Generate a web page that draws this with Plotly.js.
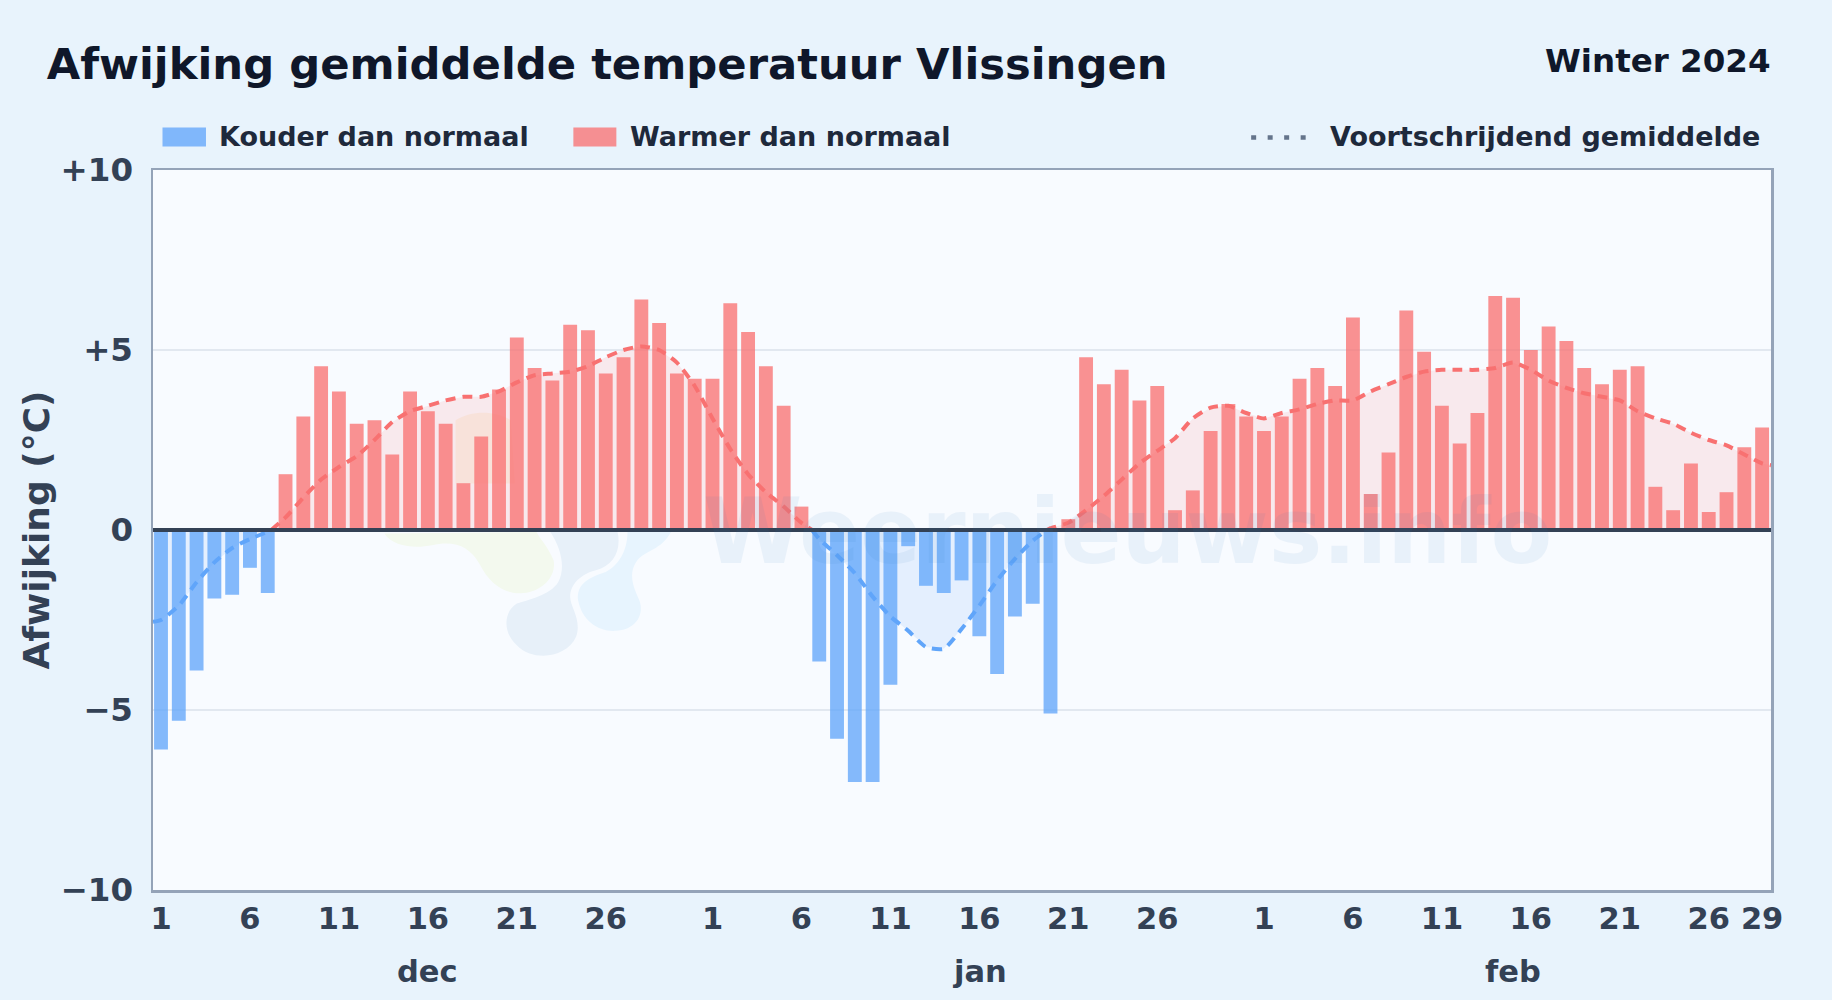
<!DOCTYPE html>
<html>
<head>
<meta charset="utf-8">
<script src="https://cdn.plot.ly/plotly-3.0.1.min.js"></script>
<style>html,body{margin:0;padding:0;background:#e8f3fc}#chart{width:1832px;height:1000px}</style>
</head>
<body>
<div id="chart"></div>
<script>
const deviation = [
 -6.1,-5.3,-3.9,-1.9,-1.8,-1.05,-1.75,1.55,3.15,4.55,3.85,2.95,3.05,2.1,3.85,3.3,2.95,1.3,2.6,3.9,5.35,4.5,4.15,5.7,5.55,4.35,4.8,6.4,5.75,4.35,4.2,
 4.2,6.3,5.5,4.55,3.45,0.65,-3.65,-5.8,-7.0,-7.0,-4.3,-0.45,-1.55,-1.75,-1.4,-2.95,-4.0,-2.4,-2.05,-5.1,0.3,4.8,4.05,4.45,3.6,4.0,0.55,1.1,2.75,3.5,3.15,
 2.75,3.15,4.2,4.5,4.0,5.9,1.0,2.15,6.1,4.95,3.45,2.4,3.25,6.5,6.45,5.0,5.65,5.25,4.5,4.05,4.45,4.55,1.2,0.55,1.85,0.5,1.05,2.3,2.85
];
const dayIndex = [
 0,1,2,3,4,5,6,7,8,9,10,11,12,13,14,15,16,17,18,19,20,21,22,23,24,25,26,27,28,29,30,
 31,32,33,34,35,36,37,38,39,40,41,42,43,44,45,46,47,48,49,50,51,52,53,54,55,56,57,58,59,60,61,
 62,63,64,65,66,67,68,69,70,71,72,73,74,75,76,77,78,79,80,81,82,83,84,85,86,87,88,89,90
];
const avgX = [-0.45,0,1,2,3,4,5,6,6.2,7,8,9,10,11,12,13,14,15,16,17,18,19,20,21,22,23,24,25,26,27,28,29,30,31,32,33,34,35,36,36.6,37,38,39,40,41,42,43,44,45,46,47,48,49,49.8,50,51,52,53,54,55,56,57,58,59,60,61,62,63,64,65,66,67,68,69,70,71,72,73,74,75,76,77,78,79,80,81,82,83,84,85,86,87,88,89,90,90.5];
const avgY = [-2.55,-2.5,-2.1,-1.45,-0.9,-0.5,-0.25,-0.05,0,0.35,0.9,1.4,1.75,2.05,2.5,3.0,3.3,3.45,3.6,3.7,3.7,3.85,4.1,4.3,4.35,4.4,4.55,4.8,5.0,5.1,5.0,4.65,4.0,3.1,2.25,1.55,1.05,0.65,0.2,0,-0.25,-0.7,-1.2,-1.85,-2.4,-2.8,-3.25,-3.3,-2.75,-2.1,-1.4,-0.8,-0.3,0,0.05,0.2,0.55,0.95,1.4,1.85,2.2,2.55,3.1,3.4,3.45,3.25,3.1,3.25,3.35,3.5,3.6,3.6,3.85,4.05,4.25,4.4,4.45,4.45,4.45,4.5,4.65,4.45,4.15,3.95,3.8,3.7,3.6,3.3,3.1,2.95,2.7,2.5,2.35,2.1,1.85,1.8];
const tickPos = [0,5,10,15,20,25,31,36,41,46,51,56,62,67,72,77,82,87,90];
const tickText = ['1','6','11','16','21','26','1','6','11','16','21','26','1','6','11','16','21','26','29'];
const monthNames = ['dec','jan','feb'];
const monthPos = [15,46,76];
const yTicks = [-10,-5,0,5,10];
const yTickText = ['\u221210','\u22125','0','+5','+10'];

const L=152.5,R=1771,T=169.5,B=890;
const fx=p=>(p-L)/(R-L), fy=p=>1-(p-T)/(B-T);
const RED='#f87171',BLUE='#60a5fa';
const coldVals=deviation.map(v=>v<0?v:null), warmVals=deviation.map(v=>v>=0?v:null);
const avgWarm=avgY.map(v=>v>=0?v:null), avgCold=avgY.map(v=>v<=0?v:null);

const common={type:'scatter',mode:'lines',x:avgX,hoverinfo:'skip',showlegend:false};
const traces=[
 {...common,y:avgWarm,fill:'tozeroy',fillcolor:'rgba(248,113,113,0.13)',line:{width:0},xaxis:'x',yaxis:'y'},
 {...common,y:avgCold,fill:'tozeroy',fillcolor:'rgba(96,165,250,0.13)',line:{width:0},xaxis:'x',yaxis:'y'},
 {type:'bar',name:'Kouder dan normaal',x:dayIndex,y:coldVals,width:0.78,marker:{color:'rgba(96,165,250,0.77)',line:{width:0}},xaxis:'x2',yaxis:'y2'},
 {type:'bar',name:'Warmer dan normaal',x:dayIndex,y:warmVals,width:0.78,marker:{color:'rgba(248,113,113,0.77)',line:{width:0}},xaxis:'x2',yaxis:'y2'},
 {...common,name:'Voortschrijdend gemiddelde',y:avgWarm,line:{color:RED,width:4,dash:'10px,7px',shape:'spline',smoothing:0.6},xaxis:'x2',yaxis:'y2'},
 {...common,name:'Voortschrijdend gemiddelde',y:avgCold,line:{color:BLUE,width:4,dash:'10px,7px',shape:'spline',smoothing:0.6},xaxis:'x2',yaxis:'y2'}
];

const logo=`<svg xmlns="http://www.w3.org/2000/svg" viewBox="0 0 1568 900" preserveAspectRatio="none">
<path fill="#f9f3ea" d="M190 60 C230 30 290 30 330 60 L340 250 L190 250 Z"/>
<path fill="#f3f9ee" d="M10 400 C30 440 90 445 130 435 C190 420 225 440 250 490 C280 560 320 585 370 578 C420 565 445 520 438 480 C425 440 400 410 395 395 Z"/>
<path fill="#e7f0f9" d="M430 395 C455 440 470 500 450 545 C430 585 370 600 345 610 C310 635 310 700 345 735 C385 785 470 775 495 710 C510 660 480 620 480 590 C480 550 510 520 545 510 C590 495 610 450 600 395 Z"/>
<path fill="#e7f4fe" d="M625 395 C625 440 610 490 570 515 C530 530 495 550 500 600 C510 660 550 695 595 692 C640 690 670 650 655 600 C640 560 625 520 650 480 C670 450 710 450 735 395 Z"/>
</svg>`;

function txt(x,y,text,size,color,anchor){
 return {xref:'paper',yref:'paper',x:fx(x),y:fy(y),text:text,showarrow:false,xanchor:anchor||'left',yanchor:'middle',
  font:{family:'DejaVu Sans',size:size,color:color,weight:700}};
}
const annotations=[
 {xref:'paper',yref:'paper',x:fx(1127),y:fy(531),text:'Weernieuws.info',showarrow:false,xanchor:'center',yanchor:'middle',
  font:{family:'DejaVu Sans',size:90,color:'#2a78c0',weight:700},opacity:0.07},
 txt(1773,60,'Winter 2024',32.5,'#0f172a','right'),
 txt(217,136,'Kouder dan normaal',27,'#1e293b'),
 txt(628,136,'Warmer dan normaal',27,'#1e293b'),
 txt(1328,136,'Voortschrijdend gemiddelde',27,'#1e293b')
];
monthNames.forEach((m,i)=>annotations.push({xref:'x',yref:'paper',x:monthPos[i],y:fy(972),text:m,showarrow:false,xanchor:'center',yanchor:'middle',
 font:{family:'DejaVu Sans',size:30.5,color:'#334155',weight:700}}));

const layout={
 width:1832,height:1000,autosize:false,
 paper_bgcolor:'#e8f3fc',plot_bgcolor:'#f8fbff',
 margin:{l:L,r:1832-R,t:T,b:1000-B,pad:0},
 showlegend:false,barmode:'overlay',hovermode:false,
 font:{family:'DejaVu Sans',color:'#334155'},
 title:{text:'Afwijking gemiddelde temperatuur Vlissingen',x:46.7/1832,xanchor:'left',xref:'container',y:1-64/1000,yanchor:'middle',yref:'container',
  font:{family:'DejaVu Sans',size:43.3,color:'#0f172a',weight:700}},
 xaxis:{range:[-0.45,90.5],tickmode:'array',tickvals:tickPos,ticktext:tickText,showgrid:false,zeroline:false,
  showline:true,mirror:true,linecolor:'#94a3b8',linewidth:2.5,ticks:'',ticklen:0,tickangle:0,
  tickfont:{family:'DejaVu Sans',size:30.5,color:'#334155',weight:700},ticklabelstandoff:0},
 yaxis:{range:[-10,10],tickmode:'array',tickvals:yTicks,ticktext:yTickText,showgrid:true,gridcolor:'#e2e8f0',gridwidth:1.5,zeroline:false,
  showline:true,mirror:true,linecolor:'#94a3b8',linewidth:2.5,ticks:'',
  tickfont:{family:'DejaVu Sans',size:32.5,color:'#334155',weight:700},ticklabelstandoff:11,
  title:{text:'Afwijking (\u00b0C)',standoff:0,font:{family:'DejaVu Sans',size:36,color:'#334155',weight:700}}},
 xaxis2:{range:[-0.45,90.5],overlaying:'x',visible:false},
 yaxis2:{range:[-10,10],overlaying:'y',visible:false},
 annotations:annotations,
 shapes:[
  {type:'line',xref:'paper',yref:'y2',x0:0,x1:1,y0:0,y1:0,line:{color:'#334155',width:4},layer:'above'},
  {type:'rect',xref:'paper',yref:'paper',x0:fx(162),x1:fx(205.5),y0:fy(127),y1:fy(146),fillcolor:'rgba(96,165,250,0.77)',line:{width:0}},
  {type:'rect',xref:'paper',yref:'paper',x0:fx(573),x1:fx(616),y0:fy(127),y1:fy(146),fillcolor:'rgba(248,113,113,0.77)',line:{width:0}},
  {type:'line',xref:'paper',yref:'paper',x0:fx(1251),x1:fx(1308),y0:fy(137),y1:fy(137),line:{color:'#64748b',width:4.5,dash:'5px,11.5px'}}
 ],
 images:[{source:'data:image/svg+xml;charset=utf-8,'+encodeURIComponent(logo),xref:'paper',yref:'paper',
  x:fx(380),y:fy(400),sizex:620/(R-L),sizey:300/(B-T),sizing:'stretch',xanchor:'left',yanchor:'top',layer:'below',opacity:1}]
};
Plotly.newPlot('chart',traces,layout,{displayModeBar:false,staticPlot:true});
</script>
</body>
</html>
